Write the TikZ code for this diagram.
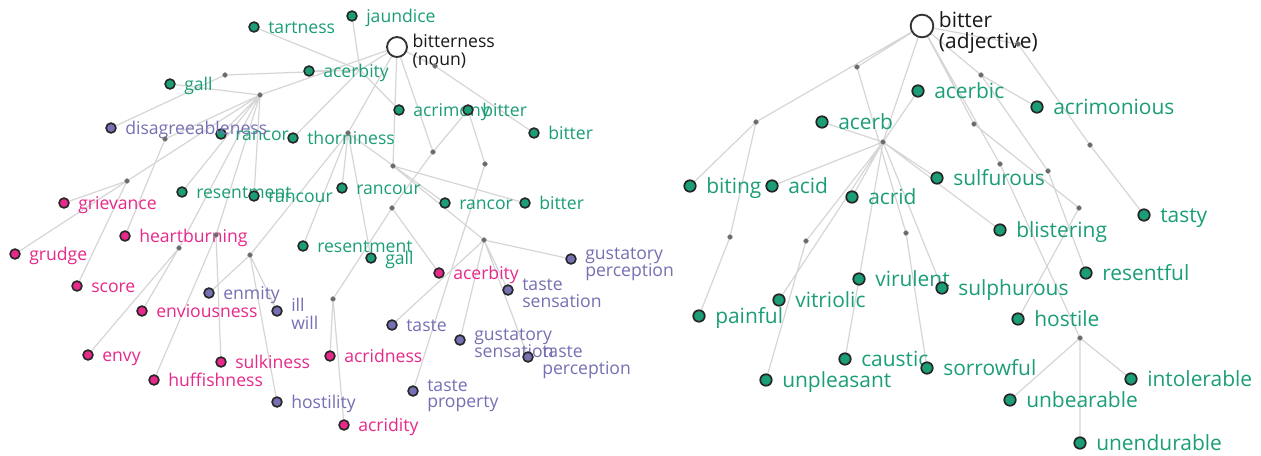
\documentclass[tikz,border=0pt]{standalone}
\usepackage{fontspec}
\setmainfont{Open Sans}
\usetikzlibrary{backgrounds}
\definecolor{cg}{HTML}{1B9E77}
\definecolor{cp}{HTML}{7570B3}
\definecolor{ck}{HTML}{E7298A}
\definecolor{edgec}{HTML}{D6D6D6}
\definecolor{jd}{HTML}{6A6A6A}
\tikzset{
 wordL/.style={circle,inner sep=0pt,minimum size=7.4pt,draw=black!85,line width=1.2pt},
 wordR/.style={circle,inner sep=0pt,minimum size=8.6pt,draw=black!85,line width=1.3pt},
 junc/.style={circle,inner sep=0pt,minimum size=3.6pt,fill=jd,draw=jd!70,line width=0.3pt},
 rootnode/.style={circle,inner sep=0pt,draw=black!80,line width=1.4pt,fill=white},
 lblL/.style={inner sep=0pt,anchor=base west,font=\fontsize{13.2pt}{11.6pt}\selectfont},
 lblR/.style={inner sep=0pt,anchor=base west,font=\fontsize{15.7pt}{13pt}\selectfont},
 link/.style={draw=edgec,line width=0.9pt},
}
\newcommand\WL[5]{\node[wordL,fill=#4] (#1) at (#2,#3) {};
 \node[lblL,text=#4] (#1-t) at ([xshift=10.5pt,yshift=-4.9pt]#1.center) {#5};}
\newcommand\WLtwo[6]{\node[wordL,fill=#4] (#1) at (#2,#3) {};
 \node[lblL,text=#4] (#1-t) at ([xshift=10.5pt,yshift=-0.2pt]#1.center) {\begin{tabular}[t]{@{}l@{}}#5\\#6\end{tabular}};}
\newcommand\WR[5]{\node[wordR,fill=#4] (#1) at (#2,#3) {};
 \node[lblR,text=#4] (#1-t) at ([xshift=12pt,yshift=-5.6pt]#1.center) {#5};}
\newcommand\jdot[3]{\node[junc] (#1) at (#2,#3) {};}
\begin{document}
\begin{tikzpicture}[x=0.75pt,y=-0.75pt]
\useasboundingbox (0,0) rectangle (1261,455);
% ---------------- left graph ----------------
\node[rootnode,minimum size=15pt] (rootA) at (397,47) {};
\node[lblL,text=black!90] (rootA-t) at ([xshift=11.5pt,yshift=-0.6pt]rootA.center) {\begin{tabular}[t]{@{}l@{}}bitterness\\(noun)\end{tabular}};
\WL{tartness}{254}{27}{cg}{tartness}
\WL{jaundice}{352}{16}{cg}{jaundice}
\WL{acerbityA}{309}{71}{cg}{acerbity}
\WL{gallA}{170}{84}{cg}{gall}
\WL{acrimony}{399}{110}{cg}{acrimony}
\WL{bitterA}{468}{110}{cg}{bitter}
\WL{bitterB}{534}{133}{cg}{bitter}
\WL{rancorA}{221}{134}{cg}{rancor}
\WL{thorniness}{293}{138}{cg}{thorniness}
\WL{resentA}{182}{192}{cg}{resentment}
\WL{rancourA}{254}{196}{cg}{rancour}
\WL{rancourB}{342}{188}{cg}{rancour}
\WL{rancorB}{445}{203}{cg}{rancor}
\WL{bitterC}{525}{203}{cg}{bitter}
\WL{resentB}{303}{246}{cg}{resentment}
\WL{gallB}{371}{258}{cg}{gall}
\WL{disagree}{111}{128}{cp}{disagreeableness}
\WLtwo{gustperc}{571}{259}{cp}{gustatory}{perception}
\WLtwo{tastesens}{508}{290}{cp}{taste}{sensation}
\WL{enmity}{209}{293}{cp}{enmity}
\WLtwo{illwill}{277}{311}{cp}{ill}{will}
\WL{taste}{392}{325}{cp}{taste}
\WLtwo{gustsens}{460}{340}{cp}{gustatory}{sensation}
\WLtwo{tasteperc}{528}{357}{cp}{taste}{perception}
\WLtwo{tasteprop}{413}{391}{cp}{taste}{property}
\WL{hostility}{277}{402}{cp}{hostility}
\WL{grievance}{64}{203}{ck}{grievance}
\WL{heartburning}{125}{236}{ck}{heartburning}
\WL{grudge}{15}{254}{ck}{grudge}
\WL{score}{77}{286}{ck}{score}
\WL{enviousness}{142}{311}{ck}{enviousness}
\WL{envy}{88}{355}{ck}{envy}
\WL{huffishness}{154}{380}{ck}{huffishness}
\WL{sulkiness}{221}{362}{ck}{sulkiness}
\WL{acerbityB}{439}{273}{ck}{acerbity}
\WL{acridness}{330}{356}{ck}{acridness}
\WL{acridity}{344}{425}{ck}{acridity}
\jdot{j1}{225}{75}\jdot{j2}{260}{95}\jdot{j3}{165}{139}\jdot{j4}{127}{181}
\jdot{j5}{348}{133}\jdot{j6}{435}{66}\jdot{j7}{433}{152}\jdot{j8}{393}{166}
\jdot{j9}{485}{164}\jdot{j10}{392}{208}\jdot{j11}{484}{240}\jdot{j12}{333}{299}
\jdot{j13}{250}{255}\jdot{j14}{179}{248}\jdot{j15}{216}{235}
\coordinate (s4) at (360,70);
% ---------------- right graph ----------------
\node[rootnode,minimum size=17pt] (rootB) at (922,26) {};
\node[lblR,text=black!90] (rootB-t) at ([xshift=12.5pt,yshift=-0.8pt]rootB.center) {\begin{tabular}[t]{@{}l@{}}bitter\\(adjective)\end{tabular}};
\WR{acerbic}{918}{91}{cg}{acerbic}
\WR{acrimonious}{1037}{107}{cg}{acrimonious}
\WR{acerb}{822}{122}{cg}{acerb}
\WR{biting}{690}{186}{cg}{biting}
\WR{acid}{772}{186}{cg}{acid}
\WR{acrid}{852}{197}{cg}{acrid}
\WR{sulfurous}{937}{178}{cg}{sulfurous}
\WR{tasty}{1144}{215}{cg}{tasty}
\WR{blistering}{1000}{230}{cg}{blistering}
\WR{resentful}{1086}{273}{cg}{resentful}
\WR{virulent}{859}{279}{cg}{virulent}
\WR{sulphurous}{942}{288}{cg}{sulphurous}
\WR{vitriolic}{779}{300}{cg}{vitriolic}
\WR{painful}{699}{316}{cg}{painful}
\WR{hostile}{1018}{319}{cg}{hostile}
\WR{caustic}{845}{359}{cg}{caustic}
\WR{sorrowful}{927}{368}{cg}{sorrowful}
\WR{unpleasant}{766}{380}{cg}{unpleasant}
\WR{intolerable}{1131}{379}{cg}{intolerable}
\WR{unbearable}{1010}{400}{cg}{unbearable}
\WR{unendurable}{1080}{443}{cg}{unendurable}
\jdot{r1}{857}{67}\jdot{r2}{756}{122}\jdot{r3}{883}{142}\jdot{r4}{1018}{44}
\jdot{r5}{981}{75}\jdot{r6}{974}{124}\jdot{r7}{1090}{145}\jdot{r8}{1000}{164}
\jdot{r9}{1048}{171}\jdot{r10}{1079}{208}\jdot{r11}{730}{237}\jdot{r12}{806}{241}
\jdot{r13}{906}{233}\jdot{r14}{1080}{338}
% ---------------- edges ----------------
\begin{scope}[on background layer]
\fill[white] (0,0) rectangle (1261,455);
\draw[link] (rootA)--(s4) (s4)--(acerbityA) (s4)--(j1) (s4)--(tartness) (s4)--(jaundice) (s4)--(thorniness) (s4)--(acrimony);
\draw[link] (j1)--(disagree);
\draw[link] (rootA)--(j2) (j2)--(gallA) (j2)--(rancorA) (j2)--(resentA) (j2)--(rancourA) (j2)--(j3) (j2)--(j4) (j2)--(j14) (j2)--(j15);
\draw[link] (j3)--(heartburning) (j4)--(grievance) (j4)--(grudge) (j4)--(score) (j14)--(enviousness) (j14)--(envy) (j15)--(huffishness) (j15)--(sulkiness);
\draw[link] (rootA)--(j5) (j5)--(rancourB) (j5)--(resentB) (j5)--(gallB) (j5)--(rancorB) (j5)--(j13);
\draw[link] (j13)--(enmity) (j13)--(illwill) (j13)--(hostility);
\draw[link] (rootA)--(j6) (j6)--(bitterB);
\draw[link] (rootA)--(j8) (j8)--(bitterC) (j8)--(j11);
\draw[link] (j11)--(gustperc) (j11)--(tastesens) (j11)--(taste) (j11)--(gustsens) (j11)--(tasteperc);
\draw[link] (rootA)--(j7) (j7)--(bitterA) (bitterA)--(j9) (j9)--(tasteprop) (j7)--(j10) (j10)--(acerbityB) (j10)--(j12) (j12)--(acridness) (j12)--(acridity);
% right
\draw[link] (rootB)--(r1) (rootB)--(r2) (rootB)--(r3) (rootB)--(r4) (rootB)--(r5) (rootB)--(r6) (rootB)--(r8);
\draw[link] (r1)--(r13) (r13)--(sorrowful);
\draw[link] (r2)--(biting) (r2)--(r11) (r11)--(painful);
\draw[link] (r3)--(acerbic) (r3)--(acerb) (r3)--(acid) (r3)--(acrid) (r3)--(sulfurous) (r3)--(blistering) (r3)--(vitriolic) (r3)--(virulent) (r3)--(caustic) (r3)--(sulphurous) (r3)--(r12) (r12)--(unpleasant);
\draw[link] (r4)--(r7) (r7)--(tasty);
\draw[link] (r5)--(acrimonious) (r5)--(r9) (r9)--(resentful);
\draw[link] (r6)--(r10) (r10)--(hostile);
\draw[link] (r8)--(r14) (r14)--(intolerable) (r14)--(unbearable) (r14)--(unendurable);
\end{scope}
\end{tikzpicture}
\end{document}
